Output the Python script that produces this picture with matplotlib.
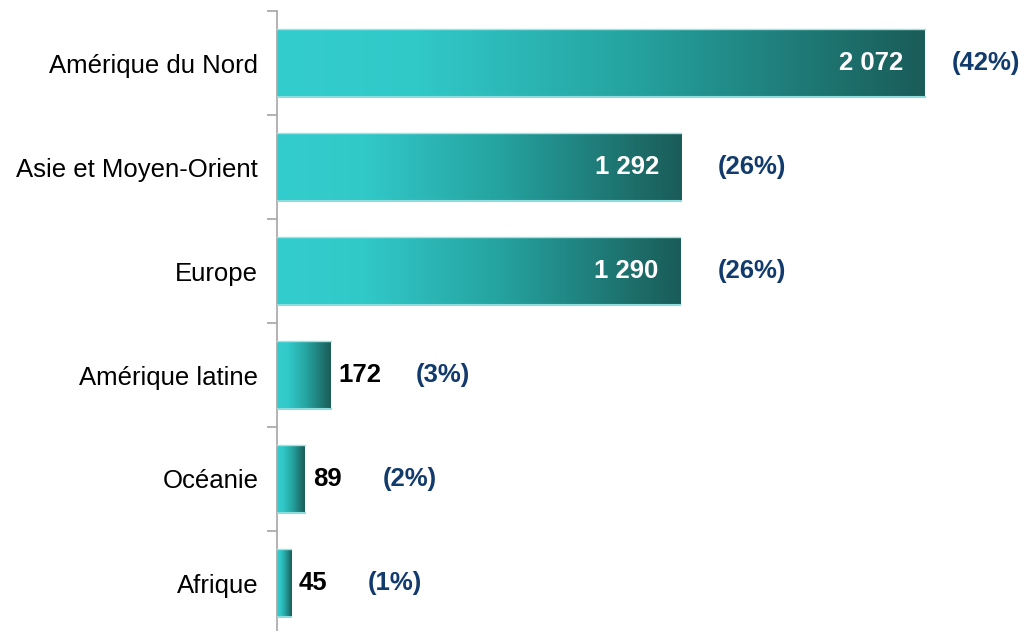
import matplotlib
matplotlib.use("Agg")
import matplotlib.pyplot as plt
import numpy as np
from matplotlib.colors import LinearSegmentedColormap

categories = ["Amérique du Nord", "Asie et Moyen-Orient", "Europe",
              "Amérique latine", "Océanie", "Afrique"]
values = [2072, 1292, 1290, 172, 89, 45]
value_labels = ["2 072", "1 292", "1 290", "172", "89", "45"]
pct_labels = ["(42%)", "(26%)", "(26%)", "(3%)", "(2%)", "(1%)"]

plt.rcParams['font.family'] = ['Liberation Sans', 'DejaVu Sans']

W, H = 1027, 631
fig = plt.figure(figsize=(W / 100, H / 100), dpi=100)
ax_left, ax_right = 277, 1027
ax_top, ax_bot = 11, 635
ax = fig.add_axes([ax_left / W, (H - ax_bot) / H, (ax_right - ax_left) / W,
                   (ax_bot - ax_top) / H])
px_per_unit = (925 - 277) / 2072.0
xmax = (ax_right - ax_left) / px_per_unit
ax.set_xlim(0, xmax)
ax.set_ylim(len(categories) - 0.5, -0.5)

cmap = LinearSegmentedColormap.from_list(
    "teal", [(0.0, "#34CDCD"), (0.22, "#31C8C8"), (0.55, "#25A3A0"),
             (1.0, "#1A5C58")])
grad = np.linspace(0, 1, 256).reshape(1, -1)
bar_h = 0.65
for i, v in enumerate(values):
    ax.imshow(grad, cmap=cmap, aspect="auto",
              extent=(0, v, i + bar_h / 2, i - bar_h / 2), zorder=2,
              interpolation="bilinear")
    ax.plot([0, v], [i - bar_h / 2, i - bar_h / 2], color="#9FE3E3", lw=1.0, zorder=3)
    ax.plot([0, v], [i + bar_h / 2, i + bar_h / 2], color="#8FDCDC", lw=1.5, zorder=3)

unit = 1 / px_per_unit
pct_offsets = [27, 37, 37, 85, 78, 77]
fs = 18.5
pct_color = "#123B6D"
for i, v in enumerate(values):
    if v > 1000:
        ax.text(v - 22 * unit, i, value_labels[i], ha="right", va="center",
                color="white", fontsize=fs, fontweight="bold", zorder=4)
    else:
        ax.text(v + 8 * unit, i, value_labels[i], ha="left", va="center",
                color="black", fontsize=fs, fontweight="bold")
    ax.text(v + pct_offsets[i] * unit, i, pct_labels[i], ha="left",
            va="center", color=pct_color, fontsize=fs, fontweight="bold")

ax.set_yticks(range(len(categories)))
ax.set_yticklabels(categories, fontsize=fs)
ax.tick_params(axis="y", which="major", length=0, pad=13.5)
ax.set_yticks(np.arange(-0.5, len(categories), 1.0), minor=True)
ax.tick_params(axis="y", which="minor", length=7, color="#A6A6A6", width=1.2)
ax.set_xticks([])
for s in ["top", "right", "bottom"]:
    ax.spines[s].set_visible(False)
ax.spines["left"].set_color("#A6A6A6")
ax.spines["left"].set_linewidth(1.2)
ax.set_facecolor("none")

fig.savefig("out.png", dpi=100)
